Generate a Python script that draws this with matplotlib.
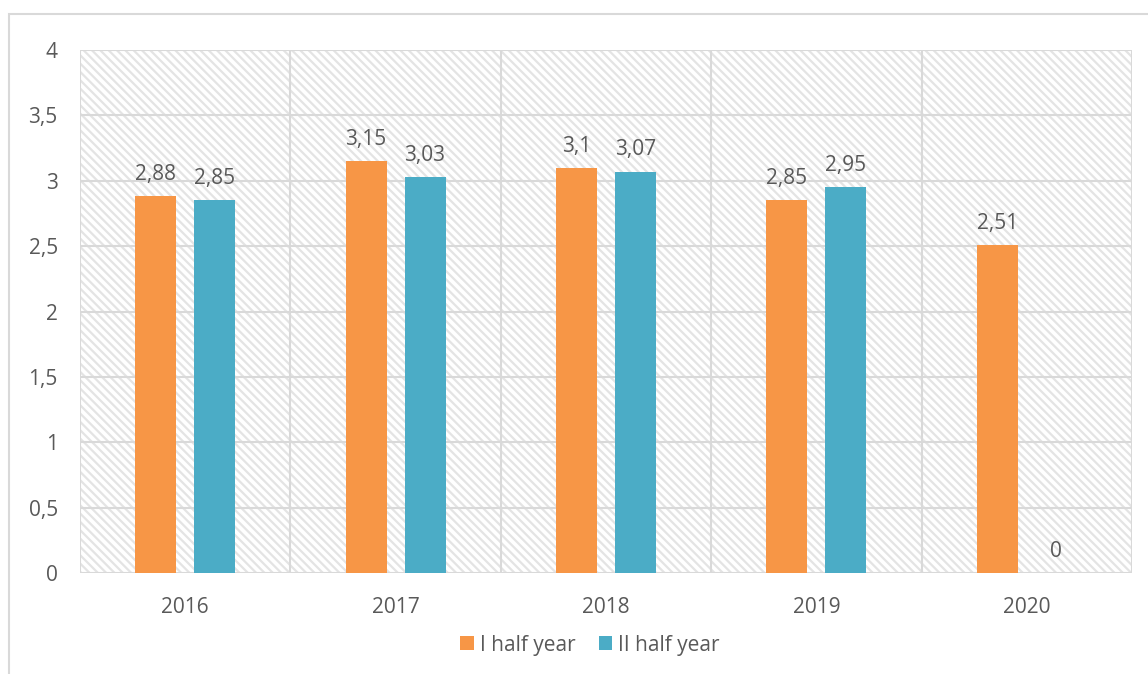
import matplotlib
matplotlib.use("Agg")
import matplotlib.pyplot as plt
from matplotlib.patches import Rectangle
import numpy as np

years = ["2016", "2017", "2018", "2019", "2020"]
first_half = [2.88, 3.15, 3.10, 2.85, 2.51]
second_half = [2.85, 3.03, 3.07, 2.95, 0.0]
series_names = ["I half year", "II half year"]
yticks = [0, 0.5, 1, 1.5, 2, 2.5, 3, 3.5, 4]

orange = "#F79646"
teal = "#4BACC6"
grid_c = "#d9d9d9"
text_c = "#595959"

plt.rcParams["font.family"] = ["Open Sans", "DejaVu Sans"]
plt.rcParams["hatch.linewidth"] = 1.6
plt.rcParams["hatch.color"] = "#e4e4e4"

fig = plt.figure(figsize=(11.48, 6.74), dpi=100)

# outer chart frame
fig.patches.append(Rectangle((9 / 1148, -0.01), 1.0, 1 - 14 / 674 + 0.01,
                             transform=fig.transFigure, fill=False,
                             edgecolor=grid_c, linewidth=1.5))

ax = fig.add_axes([80 / 1148, 1 - 573 / 674, (1132 - 80) / 1148, (573 - 50) / 674])
ax.set_xlim(-0.5, len(years) - 0.5)
ax.set_ylim(0, 4)

# hatched plot-area background
ax.add_patch(Rectangle((0, 0), 1, 1, transform=ax.transAxes, facecolor="white",
                       hatch="\\\\\\\\", edgecolor="#e4e4e4", linewidth=0, zorder=0))

x = np.arange(len(years))
w = 0.195
off = 0.14
b1 = ax.bar(x - off, first_half, w, color=orange, label=series_names[0], zorder=3)
b2 = ax.bar(x + off, second_half, w, color=teal, label=series_names[1], zorder=3)

def fmt(v):
    s = f"{v:.2f}".rstrip("0").rstrip(".")
    return s.replace(".", ",")

for bars, vals in ((b1, first_half), (b2, second_half)):
    for rect, v in zip(bars, vals):
        ax.annotate(fmt(v), (rect.get_x() + rect.get_width() / 2, v),
                    xytext=(0, 8), textcoords="offset points",
                    ha="center", va="bottom", fontsize=15, color=text_c, zorder=4)

# gridlines
for yv in yticks:
    ax.axhline(yv, color=grid_c, linewidth=1.5, zorder=1)
for xv in np.arange(-0.5, len(years), 1.0):
    ax.axvline(xv, color=grid_c, linewidth=1.5, zorder=1)

for s in ax.spines.values():
    s.set_visible(False)

ax.set_yticks(yticks)
ax.set_yticklabels([fmt(v) for v in yticks])
ax.set_xticks(x)
ax.set_xticklabels(years)
ax.tick_params(axis="both", length=0, labelsize=15, labelcolor=text_c)
ax.tick_params(axis="y", pad=16)
ax.tick_params(axis="x", pad=17)

leg = fig.legend(handles=[b1, b2], labels=series_names, loc="center",
                 bbox_to_anchor=(590 / 1148, 1 - 645 / 674), ncol=2, frameon=False,
                 fontsize=15, handlelength=0.65, handleheight=0.65, handletextpad=0.3,
                 columnspacing=1.1, labelcolor=text_c)

fig.savefig("out.png", dpi=100)
